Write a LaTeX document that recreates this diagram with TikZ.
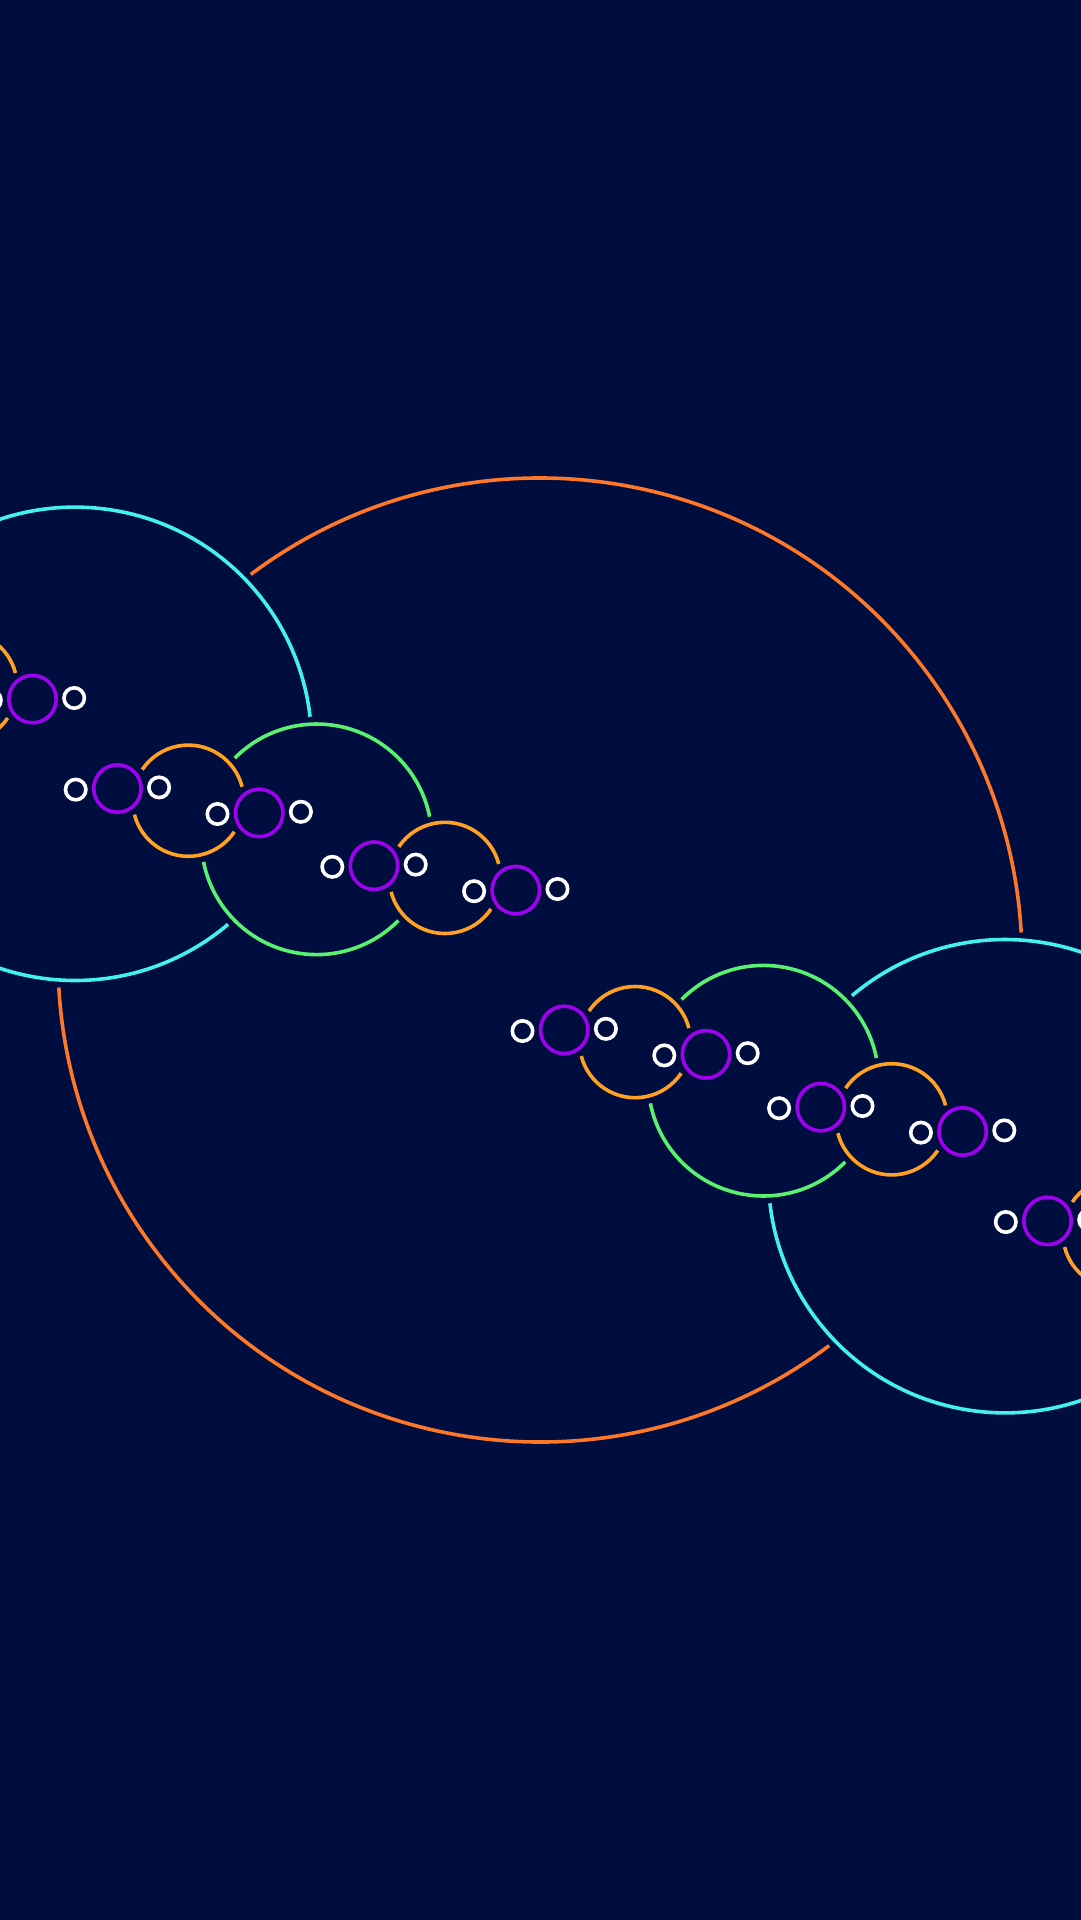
\documentclass[tikz,border=0pt]{standalone}
\definecolor{bgc}{HTML}{000D3F}
\definecolor{orangec}{HTML}{FF7828}
\definecolor{cyanc}{HTML}{44F0F0}
\definecolor{greenc}{HTML}{5AF070}
\definecolor{yellowc}{HTML}{FFA222}
\definecolor{purplec}{HTML}{A000F0}
\tikzset{
  ring/.style={line width=3.6pt},
  ringorange/.style={ring, draw=orangec},
  ringcyan/.style={ring, draw=cyanc},
  ringgreen/.style={ring, draw=greenc},
  ringyellow/.style={ring, draw=yellowc},
  ringpurple/.style={ring, draw=purplec},
  ringwhite/.style={ring, draw=white},
}
% #1 cx, #2 cy, #3 radius, #4 axis angle, #5 half gap, #6 style
\newcommand\gapcircle[6]{%
  \draw[#6, shift={(#1,#2)}] ({#4+#5}:#3) arc[start angle={#4+#5}, end angle={#4+180-#5}, radius=#3];
  \draw[#6, shift={(#1,#2)}] ({#4+180+#5}:#3) arc[start angle={#4+180+#5}, end angle={#4+360-#5}, radius=#3];
}
\begin{document}
\begin{tikzpicture}[x=1pt,y=-1pt]
\useasboundingbox (0,0) rectangle (1080,1920);
\fill[bgc] (-4,-4) rectangle (1084,1924);
\clip (-4,-4) rectangle (1084,1924);
% level 0
\gapcircle{540}{960}{482}{24.93}{28.2}{ringorange}
% level 1
\foreach \a in {-1,1}{
  \pgfmathsetmacro\cx{540+\a*465.05}
  \pgfmathsetmacro\cy{960+\a*216.2}
  \gapcircle{\cx}{\cy}{236.7}{21.56}{28.14}{ringcyan}
}
% level 2
\foreach \a in {-1,1}{\foreach \b in {-1,1}{
  \pgfmathsetmacro\cx{540+\a*465.05+\b*241.65}
  \pgfmathsetmacro\cy{960+\a*216.2+\b*95.5}
  \gapcircle{\cx}{\cy}{115.3}{16.74}{28.06}{ringgreen}
}}
% level 3
\foreach \a in {-1,1}{\foreach \b in {-1,1}{\foreach \c in {-1,1}{
  \pgfmathsetmacro\cx{540+\a*465.05+\b*241.65+\c*128.3}
  \pgfmathsetmacro\cy{960+\a*216.2+\b*95.5+\c*38.6}
  \gapcircle{\cx}{\cy}{55.6}{9.76}{24.27}{ringyellow}
}}}
% level 4
\foreach \a in {-1,1}{\foreach \b in {-1,1}{\foreach \c in {-1,1}{\foreach \d in {-1,1}{
  \pgfmathsetmacro\cx{540+\a*465.05+\b*241.65+\c*128.3+\d*70.9}
  \pgfmathsetmacro\cy{960+\a*216.2+\b*95.5+\c*38.6+\d*12.2}
  \draw[ringpurple] (\cx,\cy) circle[radius=23.7];
}}}}
% level 5
\foreach \a in {-1,1}{\foreach \b in {-1,1}{\foreach \c in {-1,1}{\foreach \d in {-1,1}{\foreach \e in {-1,1}{
  \pgfmathsetmacro\cx{540+\a*465.05+\b*241.65+\c*128.3+\d*70.9+\e*41.7}
  \pgfmathsetmacro\cy{960+\a*216.2+\b*95.5+\c*38.6+\d*12.2-\e*1.1}
  \draw[ringwhite] (\cx,\cy) circle[radius=10.2];
}}}}}
\end{tikzpicture}
\end{document}
